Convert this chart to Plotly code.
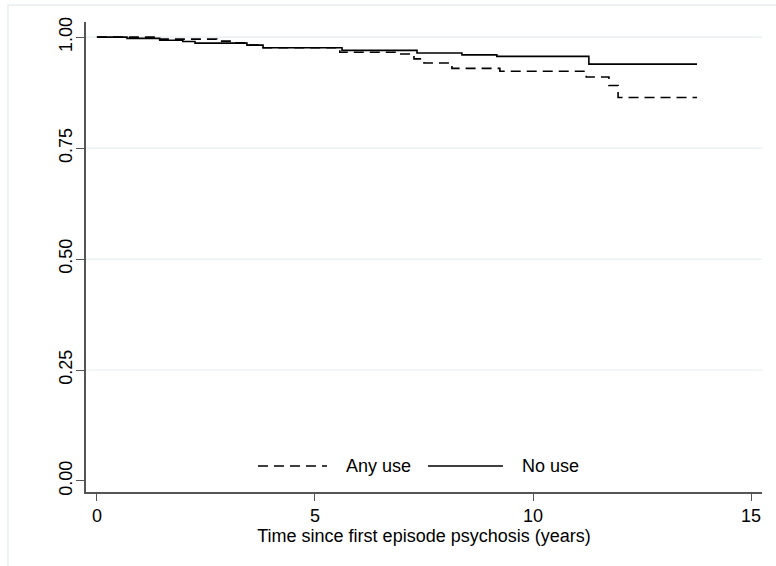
import plotly.graph_objects as go

# ---- data ----
any_use_t = [0.0, 1.44, 2.75, 3.10, 3.44, 3.81, 5.57, 6.90, 7.27, 7.50, 8.14, 9.24, 11.22, 11.74, 11.95, 13.76]
any_use_s = [1.000, 0.9955, 0.991, 0.987, 0.982, 0.976, 0.966, 0.962, 0.951, 0.9415, 0.9295, 0.923, 0.910, 0.891, 0.864, 0.864]

no_use_t = [0.0, 0.69, 1.44, 1.97, 2.25, 3.44, 3.81, 5.62, 7.34, 8.37, 9.17, 11.28, 13.76]
no_use_s = [1.000, 0.997, 0.993, 0.990, 0.9865, 0.982, 0.976, 0.970, 0.964, 0.960, 0.9565, 0.939, 0.939]

series_names = ["Any use", "No use"]
x_ticks = [0, 5, 10, 15]
y_ticks = [0.0, 0.25, 0.5, 0.75, 1.0]
y_tick_text = ["0.00", "0.25", "0.50", "0.75", "1.00"]
x_title = "Time since first episode psychosis (years)"

FONT = "Liberation Sans, Arial, sans-serif"
GRID = "#e6eef1"
AXIS = "#555555"
DASH = "10px,6px"

fig = go.Figure()
fig.add_trace(go.Scatter(x=any_use_t, y=any_use_s, mode="lines", line_shape="hv",
                         line=dict(color="black", width=1.6, dash=DASH),
                         name=series_names[0], showlegend=False))
fig.add_trace(go.Scatter(x=no_use_t, y=no_use_s, mode="lines", line_shape="hv",
                         line=dict(color="black", width=1.6),
                         name=series_names[1], showlegend=False))

shapes = []
# light grid lines (none at the axis minimum)
for v in y_ticks[1:]:
    shapes.append(dict(type="line", xref="paper", yref="y", x0=0, x1=1, y0=v, y1=v,
                       line=dict(color=GRID, width=1.2), layer="below"))
# outer light frame of the graph region
shapes.append(dict(type="rect", xref="paper", yref="paper", x0=-0.1154, x1=2, y0=-2, y1=1.036,
                   line=dict(color="#e3eaee", width=1.2), fillcolor="rgba(0,0,0,0)", layer="below"))

# manual legend (long line samples as in the reference)
leg_y = 0.0553
shapes.append(dict(type="line", xref="paper", yref="paper", x0=0.2544, x1=0.3565, y0=leg_y, y1=leg_y,
                   line=dict(color="black", width=1.6, dash=DASH)))
shapes.append(dict(type="line", xref="paper", yref="paper", x0=0.5059, x1=0.6168, y0=leg_y, y1=leg_y,
                   line=dict(color="black", width=1.6)))
annotations = [
    dict(text=series_names[0], xref="paper", yref="paper", x=0.3817, y=leg_y, xanchor="left",
         yanchor="middle", showarrow=False, font=dict(family=FONT, size=18, color="black")),
    dict(text=series_names[1], xref="paper", yref="paper", x=0.6420, y=leg_y, xanchor="left",
         yanchor="middle", showarrow=False, font=dict(family=FONT, size=18, color="black")),
]

fig.update_layout(
    width=776, height=566,
    margin=dict(l=86, r=14, t=22, b=74),
    paper_bgcolor="white", plot_bgcolor="white",
    font=dict(family=FONT, size=18, color="black"),
    shapes=shapes, annotations=annotations,
    showlegend=False,
)
fig.update_xaxes(range=[-0.25, 15.25], tickvals=x_ticks, ticks="outside", ticklen=7,
                 tickcolor=AXIS, tickwidth=1.2, showgrid=False, zeroline=False,
                 showline=True, linecolor=AXIS, linewidth=1.5,
                 title=dict(text=x_title, standoff=2, font=dict(size=18)),
                 tickfont=dict(size=18))
fig.update_yaxes(range=[-0.0248, 1.034], tickvals=y_ticks, ticktext=y_tick_text,
                 tickangle=-90, ticks="outside", ticklen=8, tickcolor=AXIS, tickwidth=1.2,
                 showgrid=False, zeroline=False, showline=True, linecolor=AXIS, linewidth=1.5,
                 ticklabelstandoff=-3, tickfont=dict(size=18))

fig.write_html("out.html")
